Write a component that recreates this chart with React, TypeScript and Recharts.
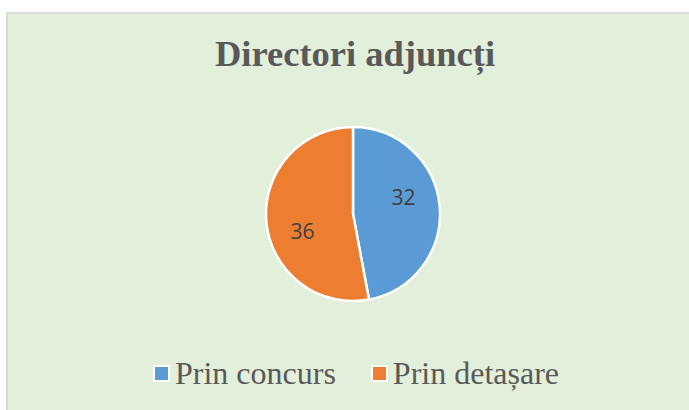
import { PieChart, Pie, Cell } from "recharts";

const categories = ["Prin concurs", "Prin detașare"];
const values = [32, 36];
const colors = ["#5b9bd5", "#ed7d31"];

const data = categories.map((name, i) => ({ name, value: values[i] }));

const RADIAN = Math.PI / 180;

function renderLabel(props: any) {
  const { cx, cy, midAngle, outerRadius, value } = props;
  const r = outerRadius * 0.61;
  const a = (midAngle + 13) * RADIAN;
  const x = cx + r * Math.cos(a);
  const y = cy - r * Math.sin(a);
  return (
    <text
      x={x}
      y={y}
      fill="#404040"
      fontSize={21}
      fontFamily="'Open Sans', Lato, sans-serif"
      textAnchor="middle"
      dominantBaseline="central"
    >
      {value}
    </text>
  );
}

export default function App() {
  return (
    <div
      style={{
        position: "fixed",
        left: 0,
        top: 0,
        width: 689,
        height: 410,
        background: "#fff",
        overflow: "hidden",
      }}
    >
      <div
        style={{
          position: "absolute",
          left: 6,
          top: 12,
          width: 700,
          height: 420,
          background: "#e2efda",
          border: "2px solid #d9d9d9",
        }}
      />
      <div
        style={{
          position: "absolute",
          left: 0,
          top: 32,
          width: 710,
          textAlign: "center",
          fontFamily: "'Liberation Serif', 'Times New Roman', serif",
          fontWeight: "bold",
          fontSize: 36.5,
          color: "#595959",
        }}
      >
        Directori adjuncți
      </div>
      <div style={{ position: "absolute", left: 0, top: 0 }}>
        <PieChart
          width={689}
          height={410}
          margin={{ top: 0, right: 0, bottom: 0, left: 0 }}
        >
          <Pie
            data={data}
            dataKey="value"
            nameKey="name"
            cx={353}
            cy={214}
            outerRadius={87}
            startAngle={90}
            endAngle={-270}
            stroke="#fff"
            strokeWidth={2.5}
            label={renderLabel}
            labelLine={false}
            isAnimationActive={false}
          >
            {data.map((d, i) => (
              <Cell key={d.name} fill={colors[i]} />
            ))}
          </Pie>
        </PieChart>
      </div>
      <div
        style={{
          position: "absolute",
          left: 153,
          top: 355,
          display: "flex",
          alignItems: "center",
          gap: 35,
          fontFamily: "'Liberation Serif', 'Times New Roman', serif",
          fontSize: 32,
          lineHeight: "36px",
          color: "#595959",
        }}
      >
        {data.map((d, i) => (
          <div key={d.name} style={{ display: "flex", alignItems: "center" }}>
            <span
              style={{
                display: "inline-block",
                width: 13,
                height: 13,
                background: colors[i],
                border: "2px solid #fff",
                marginRight: 5,
              }}
            />
            <span>{d.name}</span>
          </div>
        ))}
      </div>
    </div>
  );
}
